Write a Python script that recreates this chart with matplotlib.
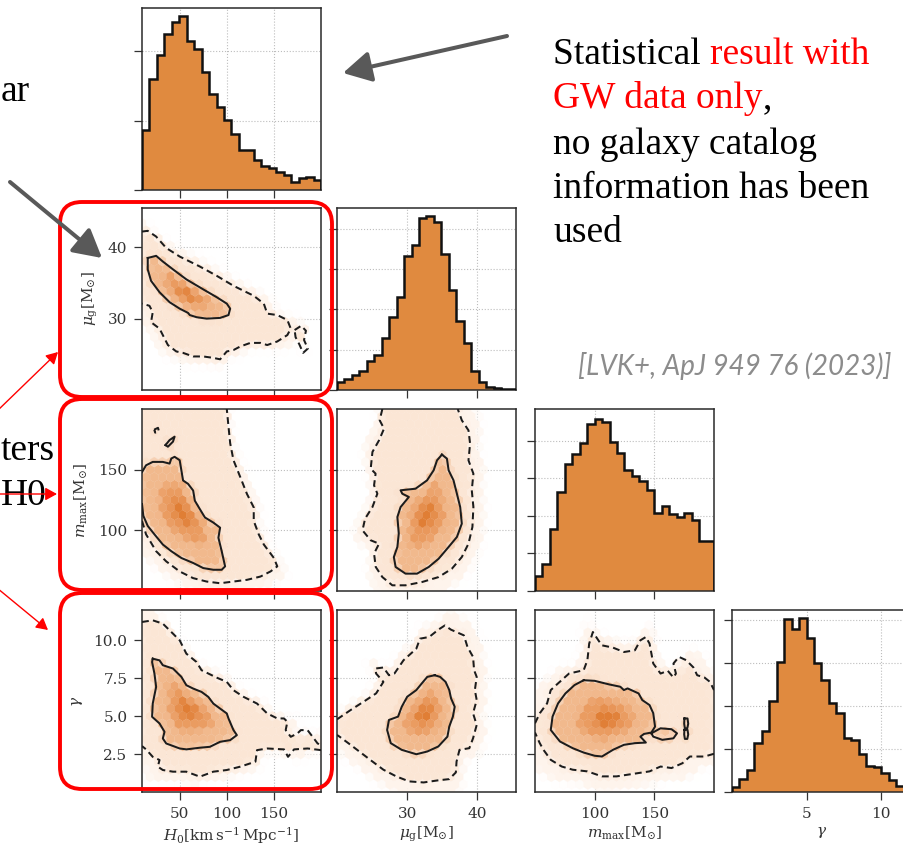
import numpy as np
import matplotlib
matplotlib.use('Agg')
import matplotlib.pyplot as plt
from matplotlib.patches import FancyBboxPatch, FancyArrowPatch
from matplotlib.path import Path
from matplotlib.colors import LinearSegmentedColormap
from matplotlib.ticker import MultipleLocator

plt.rcParams['font.family'] = 'DejaVu Serif'
plt.rcParams['mathtext.fontset'] = 'dejavuserif'

W, H = 904, 847

# parameter ranges, ticks and labels (H0, mu_g, m_max, gamma)
ranges = [(10, 200), (20, 45.5), (50, 200), (0, 12)]
xticks = [[50, 100, 150], [30, 40], [100, 150], [5, 10]]
yticks = [[], [30, 40], [100, 150], [2.5, 5.0, 7.5, 10.0]]
labels = [r'$H_0[\mathrm{km\,s^{-1}\,Mpc^{-1}}]$',
          r'$\mu_{\mathrm{g}}[\mathrm{M_{\odot}}]$',
          r'$m_{\mathrm{max}}[\mathrm{M_{\odot}}]$',
          r'$\gamma$']

# 1D marginals (density per bin, 24 bins over each range)
h0_hist = [0.00435, 0.0080, 0.0097, 0.0112, 0.0121, 0.0125, 0.01075, 0.01015,
           0.0085, 0.0069, 0.0060, 0.00505, 0.0040, 0.0029, 0.0029, 0.00215,
           0.0017, 0.00155, 0.0013, 0.0011, 0.00055, 0.00085, 0.0009, 0.0007]
mug_hist = [0.00525, 0.007, 0.0094, 0.012, 0.0178, 0.0215, 0.032, 0.0455,
            0.058, 0.083, 0.090, 0.107, 0.108, 0.1045, 0.0845, 0.062,
            0.043, 0.029, 0.012, 0.00475, 0.002, 0.001, 0.0005, 0.0005]
mmax_hist = [0.001, 0.0018, 0.004125, 0.006575, 0.008425, 0.0091, 0.00985, 0.011125,
             0.01145, 0.011225, 0.0099, 0.00915, 0.00805, 0.007675, 0.007325, 0.006725,
             0.005175, 0.005625, 0.0051, 0.00495, 0.005175, 0.00475, 0.00335, 0.00335]
gamma_hist = [0.006, 0.0155, 0.026, 0.0565, 0.0705, 0.106, 0.1515, 0.201,
              0.19, 0.2025, 0.179, 0.1505, 0.13, 0.1035, 0.092, 0.0625,
              0.0605, 0.044, 0.0305, 0.0295, 0.0225, 0.014, 0.007, 0.005]
hists = [h0_hist, mug_hist, mmax_hist, gamma_hist]
hist_tick = [0.005, 0.025, 0.0025, 0.05]
hist_top = [0.0131, 0.113, 0.0121, 0.212]

# 2D credible contours: solid = 68%, dashed = 95%
h0_mug = dict(
    solid=[(16.1, 38.5), (25, 38.8), (32.1, 38.0), (42.9, 36.9), (57.1, 35.5), (75, 34.1),
           (89.3, 33.0), (100, 32.1), (103.6, 31.4), (101.8, 30.5), (92.9, 30.1), (78.6, 30.0),
           (67.9, 30.2), (60.7, 30.5), (58.9, 30.8), (50, 31.4), (39.3, 32.3), (28.6, 33.7),
           (19.6, 35.3), (16.1, 36.9)],
    solid_closed=True,
    dashed=[[(10, 42.2), (16.1, 42.3), (25, 41.5), (35.7, 39.9), (50, 38.7), (71.4, 37.3),
             (89.3, 36.0), (107.1, 34.6), (128.6, 33.2), (139.3, 32.1), (142.9, 30.7),
             (153.6, 30.5), (164.3, 29.8), (167.9, 28.6), (164.3, 27.7), (153.6, 26.8),
             (142.9, 26.3), (135.7, 26.6), (125, 26.6), (114.3, 26.1), (107.1, 25.6),
             (100, 25.4), (92.9, 24.3), (85.7, 24.5), (75, 24.7), (64.3, 24.7), (53.6, 25.2),
             (46.4, 25.4), (37.5, 26.3), (28.6, 28.6), (19.6, 29.5), (21.4, 30.9),
             (17.9, 31.8), (10, 32.1)]],
    corner=[],
    dashed_loops=[[(172, 28.4), (179, 29.0), (184, 28.3), (182, 27.0), (186, 25.8),
                   (181, 25.2), (177, 26.4), (173, 27.4)]],
    solid_loops=[],
)

h0_mmax = dict(
    solid=[(10, 148), (14.3, 153.6), (21.4, 156.4), (32.1, 156.4), (39.3, 155), (41.1, 159.2),
           (44.6, 160.6), (50, 157.8), (51.8, 149.4), (53.6, 141.1), (58.9, 138.3), (64.3, 132.8),
           (66.1, 124.4), (71.4, 117.5), (76.8, 110.6), (85.7, 106.4), (92.9, 102.2), (91.1, 93.9),
           (94.6, 82.8), (98.2, 70.3), (94.6, 67.5), (85.7, 67.5), (75, 68.9), (64.3, 73.1),
           (51.8, 77.2), (41.1, 82.8), (32.1, 88.3), (23.2, 96.7), (16.1, 103.6), (11.4, 112),
           (10, 121.7)],
    solid_closed=False,
    dashed=[[(10, 107.8), (14.3, 96.7), (25, 82.8), (35.7, 74.4), (50, 66.1), (64.3, 60.6),
             (78.6, 57.8), (92.9, 56.4), (107.1, 57.8), (121.4, 59.2), (135.7, 61.9),
             (146.4, 66.1), (153.6, 70.3), (150, 77.2), (139.3, 88.3), (133.9, 96.7),
             (128.6, 107.8), (128.6, 118.9), (121.4, 130), (114.3, 143.9), (107.1, 157.8),
             (103.6, 171.7), (101.8, 185.6), (100, 200)]],
    corner=[(10, 200)],
    dashed_loops=[[(23, 183), (27, 184.5), (28, 181.5), (24, 180.5)]],
    solid_loops=[[(35, 170.3), (39.3, 174.4), (44.6, 177.2), (42.9, 173.1), (37.5, 168.9)]],
)

mug_mmax = dict(
    solid=[(34.95, 162.4), (35.66, 159.1), (35.9, 149.5), (36.6, 141.2), (37.08, 130.2),
           (37.55, 119.2), (37.78, 105.5), (37.08, 94.5), (35.9, 86.3), (34.48, 76.6),
           (33.07, 69.8), (31.4, 64.3), (29.76, 64.3), (28.35, 69.8), (28.1, 78), (28.6, 86.3),
           (28.8, 97.3), (28.6, 111), (29.06, 119.2), (30.24, 127.5), (29.3, 130.2),
           (29.06, 133), (31.18, 134.3), (32.83, 141.2), (33.77, 149.5), (34.25, 157.7)],
    solid_closed=True,
    dashed=[[(26.46, 200), (26.08, 190.7), (26.7, 183.8), (25.99, 174.2), (25.05, 164.6),
             (24.8, 150.8), (25.5, 146.7), (25.28, 137.1), (25.75, 130.2), (25.05, 119.2),
             (24.0, 109.6), (23.63, 100), (24.8, 91.8), (25.99, 89), (25.28, 80.8),
             (25.52, 69.8), (26.46, 61.5), (27.88, 54.7), (29.76, 54.7), (32.12, 57.4),
             (34.48, 61.5), (36.37, 68.4), (37.78, 78), (38.73, 89), (39.29, 102.7),
             (39.43, 119.2), (39.2, 133), (39.43, 146.7), (38.73, 157.7), (38.96, 171.4),
             (38.73, 182.4), (37.78, 190.7), (37.2, 200)]],
    corner=[],
    dashed_loops=[],
    solid_loops=[],
)

h0_gamma = dict(
    solid=[(21.4, 8.79), (28.6, 8.68), (32.1, 8.36), (42.9, 8.14), (51.8, 7.59), (57.1, 7.04),
           (64.3, 6.82), (73.2, 6.60), (80.4, 6.27), (85.7, 5.83), (92.9, 5.50), (100, 5.18),
           (101.8, 4.85), (107.1, 4.08), (110.7, 3.75), (103.6, 3.42), (92.9, 3.31), (82.1, 2.98),
           (71.4, 2.92), (57.1, 2.81), (50, 2.87), (35.7, 3.20), (32.1, 3.53), (33.9, 3.97),
           (28.6, 4.52), (20.7, 4.96), (21.4, 5.83), (25, 6.93), (23.2, 7.81), (20.7, 8.57)],
    solid_closed=True,
    dashed=[[(10, 11.21), (21.4, 11.32), (32.1, 11.10), (42.9, 10.44), (50, 10.0), (57.1, 9.12),
             (67.9, 8.57), (73.2, 8.03), (89.3, 7.54), (100, 7.26), (107.1, 6.71), (117.9, 6.27),
             (132.1, 5.83), (142.9, 5.18), (153.6, 4.85), (160.7, 4.85), (164.3, 4.63),
             (162.5, 4.08), (167.9, 3.64), (175, 3.86), (178.6, 4.08), (185.7, 4.08),
             (191.1, 3.64), (196.4, 3.20), (200, 3.09)],
            [(200, 2.76), (185.7, 2.87), (171.4, 2.81), (165, 2.32), (160.7, 2.81),
             (142.9, 2.87), (132.1, 2.76), (130.4, 2.0), (114.3, 1.67), (100, 1.45),
             (85.7, 1.34), (71.4, 1.01), (57.1, 1.34), (42.9, 1.34), (32.1, 1.45),
             (26.8, 1.67), (28.6, 2.11), (21.4, 2.32), (14.3, 2.81), (10, 3.03)]],
    corner=[],
    dashed_loops=[],
    solid_loops=[],
)

mug_gamma = dict(
    solid=[(33.91, 7.70), (34.69, 7.59), (35.47, 7.26), (35.99, 6.72), (36.25, 6.17),
           (36.77, 5.62), (36.51, 4.97), (35.99, 4.31), (35.73, 3.65), (34.43, 3.00),
           (32.86, 2.67), (31.30, 2.49), (29.22, 2.78), (27.66, 3.22), (27.14, 4.09),
           (27.40, 4.75), (28.70, 4.97), (29.22, 5.62), (30.0, 6.28), (31.3, 6.72),
           (32.08, 7.16), (32.86, 7.59)],
    solid_closed=True,
    dashed=[[(20, 4.79), (21.93, 5.40), (24.01, 6.02), (25.57, 6.50), (26.61, 7.26),
             (25.57, 7.81), (25.47, 8.14), (26.61, 8.21), (27.40, 7.70), (28.18, 7.81),
             (29.48, 8.69), (31.30, 9.45), (31.82, 10.11), (33.13, 10.22), (34.43, 10.70),
             (35.36, 10.98), (36.25, 10.70), (38.07, 10.33), (38.59, 9.56), (39.38, 8.91),
             (39.53, 8.03), (39.90, 7.59), (39.64, 6.72), (39.90, 6.06), (39.38, 5.19),
             (39.90, 4.42), (39.38, 3.54), (38.85, 2.89), (37.45, 2.78), (37.03, 2.01),
             (36.93, 1.29), (35.99, 0.85), (34.43, 0.77), (32.34, 0.63), (30.26, 0.70),
             (28.44, 1.03), (26.61, 1.47), (25.05, 2.01), (23.49, 2.56), (21.93, 3.11),
             (20.36, 3.65), (20, 3.76)]],
    corner=[],
    dashed_loops=[],
    solid_loops=[],
)

mmax_gamma = dict(
    solid=[(90.8, 7.37), (100, 7.33), (112.3, 7.09), (121.5, 6.94), (124.5, 6.72), (127.6, 6.83),
           (136.8, 6.50), (139.9, 6.06), (146.0, 5.73), (149.1, 5.19), (150.6, 4.31),
           (147.5, 3.92), (141.4, 3.83), (138.3, 3.65), (142.9, 3.26), (133.7, 3.22),
           (124.5, 3.11), (115.3, 2.78), (106.1, 2.34), (100, 2.39), (90.8, 2.60), (81.6, 2.89),
           (70.9, 3.33), (63.2, 4.09), (64.7, 4.97), (69.3, 5.84), (75.5, 6.50), (83.1, 7.05)],
    solid_closed=True,
    dashed=[[(50, 4.53), (54.0, 5.19), (60.1, 5.84), (63.2, 6.72), (69.3, 7.16), (78.5, 7.81),
             (90.8, 8.03), (93.9, 8.69), (95.4, 9.78), (98.5, 10.55), (103.1, 10.0),
             (106.1, 9.67), (115.3, 9.52), (124.5, 9.23), (133.7, 9.34), (138.3, 10.0),
             (142.9, 10.22), (146.0, 9.78), (149.1, 8.47), (155.2, 7.81), (161.3, 7.99),
             (166.0, 7.55), (168.1, 7.81), (166.0, 8.47), (170.6, 8.91), (176.7, 8.69),
             (182.8, 8.21), (185.9, 7.70), (192.0, 7.55), (196.6, 7.26), (200, 6.72)],
            [(200, 2.52), (192.0, 2.34), (179.8, 2.34), (173.6, 1.90), (164.4, 1.58),
             (155.2, 1.68), (146.0, 1.36), (136.8, 1.25), (127.6, 1.14), (118.4, 1.03),
             (106.1, 1.03), (93.9, 1.36), (81.6, 1.47), (72.4, 1.68), (63.2, 2.12),
             (57.1, 2.78), (54.0, 3.22), (51.5, 3.65), (50, 3.92)]],
    corner=[],
    dashed_loops=[],
    solid_loops=[[(147.5, 3.87), (155.2, 4.20), (164.4, 4.14), (169.0, 3.87), (166.0, 3.54),
                  (156.7, 3.44), (149.1, 3.65)],
                 [(175.2, 4.85), (177.8, 4.85), (178.4, 4.5), (177.6, 4.2), (175.6, 4.2), (175.0, 4.5)],
                 [(175.2, 4.1), (177.8, 4.1), (178.4, 3.8), (177.6, 3.5), (175.6, 3.5), (175.0, 3.8)]],
)

pairs = {(1, 0): h0_mug, (2, 0): h0_mmax, (2, 1): mug_mmax,
         (3, 0): h0_gamma, (3, 1): mug_gamma, (3, 2): mmax_gamma}

orange = '#E08A3F'
dens_cmap = LinearSegmentedColormap.from_list('dens', [
    (0.0, (1, 1, 1, 0)),
    (0.5 / 3.6, '#FEF4EC'),
    (1.0 / 3.6, '#FBE6D5'),
    (2.2 / 3.6, '#F1B98D'),
    (3.0 / 3.6, '#EA9C62'),
    (1.0, '#E07E35')])


def inside(poly, pts):
    return Path(np.asarray(poly, float)).contains_points(pts)


def scaled(poly, s):
    p = np.asarray(poly, float)
    c = p.mean(0)
    return c + s * (p - c)


def draw_pair(ax, spec, xr, yr):
    gx, gy = np.meshgrid(np.linspace(xr[0], xr[1], 180), np.linspace(yr[0], yr[1], 180))
    pts = np.column_stack([gx.ravel(), gy.ravel()])
    outer = np.vstack([np.asarray(s, float) for s in spec['dashed']] +
                      [np.asarray(c, float).reshape(-1, 2) for c in [spec['corner']] if c])
    inner = spec['solid']
    level = (0.5 * inside(scaled(outer, 1.2), pts) + 0.5 * inside(outer, pts)
             + 1.2 * inside(inner, pts) + 0.8 * inside(scaled(inner, 0.55), pts)
             + 0.6 * inside(scaled(inner, 0.25), pts))
    for loop in spec['dashed_loops']:
        level = level + 0.5 * inside(loop, pts)
    for loop in spec['solid_loops']:
        level = level + 1.0 * inside(loop, pts)
    ax.hexbin(pts[:, 0], pts[:, 1], C=level, gridsize=22, extent=(xr[0], xr[1], yr[0], yr[1]),
              cmap=dens_cmap, vmin=0, vmax=3.6, linewidths=0.2, edgecolors='face', zorder=1)

    dash = (0, (3.4, 2.1))
    pts_s = list(inner) + ([inner[0]] if spec['solid_closed'] else [])
    ax.plot(*zip(*pts_s), color='#1c1c1c', lw=1.45, zorder=3)
    for loop in spec['solid_loops']:
        ax.plot(*zip(*(loop + [loop[0]])), color='#1c1c1c', lw=1.45, zorder=3)
    for seg in spec['dashed']:
        ax.plot(*zip(*seg), color='#1c1c1c', lw=1.45, ls=dash, zorder=3)
    for loop in spec['dashed_loops']:
        ax.plot(*zip(*(loop + [loop[0]])), color='#1c1c1c', lw=1.45, ls=dash, zorder=3)


fig = plt.figure(figsize=(W / 100, H / 100), dpi=100)

col_left = [142, 337, 535, 732]
row_top = [8, 208, 409, 610]
pw, ph = 179, 182

for r in range(4):
    for c in range(r + 1):
        ax = fig.add_axes([col_left[c] / W, 1 - (row_top[r] + ph) / H, pw / W, ph / H])
        ax.set_axisbelow(True)
        ax.grid(True, ls=':', color='#BDBDBD', lw=0.8)
        ax.set_xlim(ranges[c])
        ax.set_xticks(xticks[c])
        if r == c:
            edges = np.linspace(ranges[c][0], ranges[c][1], len(hists[c]) + 1)
            ax.stairs(hists[c], edges, fill=True, color=orange, zorder=2)
            ax.stairs(hists[c], edges, color='#111111', lw=1.8, zorder=3)
            ax.set_ylim(0, hist_top[c])
            ax.yaxis.set_major_locator(MultipleLocator(hist_tick[c]))
        else:
            ax.set_ylim(ranges[r])
            ax.set_yticks(yticks[r])
            draw_pair(ax, pairs[(r, c)], ranges[c], ranges[r])
        for sp in ax.spines.values():
            sp.set_color('#2a2a2a')
            sp.set_linewidth(1.1)
        ax.tick_params(direction='out', length=5.5, width=0.9, color='#333333',
                       labelcolor='#333333', labelsize=11, pad=5)
        if r == 3:
            ax.set_xlabel(labels[c], fontsize=11, color='#333333', labelpad=3)
        else:
            ax.tick_params(labelbottom=False)
        if c == 0 and r > 0:
            ax.set_ylabel(labels[r], fontsize=11, color='#333333', labelpad=6)
        else:
            ax.tick_params(labelleft=False)

# slide annotations on top of the corner plot
ov = fig.add_axes([0, 0, 1, 1], zorder=10)
ov.set_xlim(0, W)
ov.set_ylim(H, 0)
ov.axis('off')
ov.patch.set_alpha(0)

for (x0, y0, x1, y1) in [(60, 202, 332, 397), (60, 399, 332, 590), (60, 593, 332, 789)]:
    ov.add_patch(FancyBboxPatch((x0, y0), x1 - x0, y1 - y0,
                                boxstyle='round,pad=0,rounding_size=22',
                                fc='none', ec='#FF0000', lw=2.8))

gray = '#595959'
for a, b in [((507, 36), (343, 73)), ((10, 182), (102, 258))]:
    ov.add_patch(FancyArrowPatch(a, b, arrowstyle='-|>,head_length=1.0,head_width=0.55',
                                 mutation_scale=17, lw=2.9, color=gray,
                                 shrinkA=0, shrinkB=0))

serif = 'Liberation Serif'
tsize = 27
for s, x, y in [('ar', 1, 101), ('ters', 1, 460), ('H0', 1, 505)]:
    ov.text(x, y, s, fontsize=tsize, family=serif, ha='left', va='baseline', color='black',
            zorder=2)

for a, b in [((-5, 413), (58, 352)), ((0, 494), (57, 494)), ((-3, 588), (48, 630))]:
    ov.add_patch(FancyArrowPatch(a, b, arrowstyle='-|>,head_length=1.0,head_width=0.55',
                                 mutation_scale=7, lw=1.0, color='#FF0000',
                                 shrinkA=0, shrinkB=0, zorder=5))

renderer = fig.canvas.get_renderer()
lines = [
    [('Statistical ', 'black'), ('result with', '#FF0000')],
    [('GW data only', '#FF0000'), (',', 'black')],
    [('no galaxy catalog', 'black')],
    [('information has been', 'black')],
    [('used', 'black')],
]
baselines = [64, 108, 154, 198, 242]
for parts, yb in zip(lines, baselines):
    x = 553
    for s, col in parts:
        t = ov.text(x, yb, s, fontsize=tsize, family=serif, ha='left', va='baseline', color=col)
        bb = t.get_window_extent(renderer=renderer)
        x = ov.transData.inverted().transform((bb.x1, bb.y0))[0]

ov.text(578, 375, '[LVK+, ApJ 949 76 (2023)]', fontsize=20, family='Lato', style='italic',
        color='#8C8C8C', ha='left', va='baseline')

fig.savefig('out.png', dpi=100)
